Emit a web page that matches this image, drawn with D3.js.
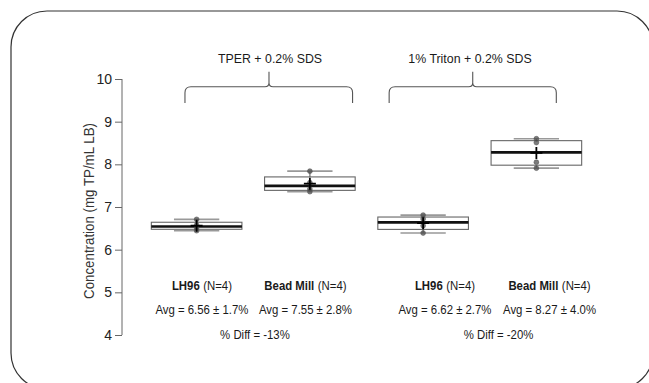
<!DOCTYPE html>
<html>
<head>
<meta charset="utf-8">
<script src="https://cdn.jsdelivr.net/npm/d3@7"></script>
<style>
  html, body { margin: 0; padding: 0; background: #fff; }
  svg { display: block; font-family: "Liberation Sans", Arial, sans-serif; }
</style>
</head>
<body>
<svg id="chart" width="649" height="383"></svg>
<script>
// ---- data ----
const methods = ["LH96", "Bead Mill", "LH96", "Bead Mill"];
const nLabels = ["(N=4)", "(N=4)", "(N=4)", "(N=4)"];
const groups = ["TPER + 0.2% SDS", "1% Triton + 0.2% SDS"];
const series = [
  [6.445, 6.51, 6.575, 6.71],
  [7.36, 7.42, 7.57, 7.84],
  [6.39, 6.56, 6.72, 6.81],
  [7.91, 8.05, 8.51, 8.60]
];
const avgLabels = ["Avg = 6.56 \u00b1 1.7%", "Avg = 7.55 \u00b1 2.8%", "Avg = 6.62 \u00b1 2.7%", "Avg = 8.27 \u00b1 4.0%"];
const diffLabels = ["% Diff = -13%", "% Diff = -20%"];
const yTicks = [4, 5, 6, 7, 8, 9, 10];
const yTitle = "Concentration (mg TP/mL LB)";

// ---- layout ----
const svg = d3.select("#chart");
const x = d3.scaleLinear().domain([0.5, 4.5]).range([140, 593]);
const y = d3.scaleLinear().domain([4, 10]).range([335, 79]);
const ink = "#1a1a1a";

function squeeze(sel, f) {
  sel.each(function () {
    const len = this.getComputedTextLength();
    d3.select(this).attr("textLength", len * f).attr("lengthAdjust", "spacingAndGlyphs");
  });
}

// frame
svg.append("rect")
  .attr("x", 11).attr("y", 11).attr("width", 642).attr("height", 378)
  .attr("rx", 36).attr("ry", 36)
  .attr("fill", "none").attr("stroke", "#333").attr("stroke-width", 1.2);

// y axis
const yAxis = d3.axisLeft(y).tickValues(yTicks).tickSize(7).tickFormat(d3.format("d"));
const gy = svg.append("g").attr("transform", "translate(122,0)").call(yAxis);
gy.select(".domain").attr("stroke", "#666").attr("d", `M0,${y(4)}V${y(10)}`);
gy.selectAll(".tick line").attr("stroke", "#666");
gy.selectAll(".tick text").attr("font-size", 14).attr("fill", "#222").attr("x", -10)
  .attr("font-family", "Liberation Sans, Arial, sans-serif");

svg.append("text")
  .attr("transform", `translate(90,${(y(4) + y(10)) / 2 + 4}) rotate(-90)`)
  .attr("text-anchor", "middle").attr("dominant-baseline", "middle")
  .attr("font-size", 14).attr("fill", "#333").text(yTitle).call(squeeze, 0.95);

// box stats (R fivenum hinges)
function fivenum(arr) {
  const s = arr.slice().sort(d3.ascending), n = s.length;
  const n4 = Math.floor((n + 3) / 2) / 2;
  const d = [1, n4, (n + 1) / 2, n + 1 - n4, n];
  return d.map(p => 0.5 * (s[Math.floor(p) - 1] + s[Math.ceil(p) - 1]));
}

const boxW = x(1.4) - x(1);
const stapleW = x(1.2) - x(1);
series.forEach((vals, i) => {
  const cx = x(i + 1);
  const [mn, q1, med, q3, mx] = fivenum(vals);
  const mean = d3.mean(vals);
  const g = svg.append("g");
  g.append("line").attr("x1", cx).attr("x2", cx).attr("y1", y(q3)).attr("y2", y(mx))
    .attr("stroke", "#888").attr("stroke-width", 1.5);
  g.append("line").attr("x1", cx).attr("x2", cx).attr("y1", y(q1)).attr("y2", y(mn))
    .attr("stroke", "#888").attr("stroke-width", 1.5);
  [mn, mx].forEach(v => g.append("line")
    .attr("x1", cx - stapleW).attr("x2", cx + stapleW).attr("y1", y(v)).attr("y2", y(v))
    .attr("stroke", "#999").attr("stroke-width", 1.6));
  g.append("rect").attr("x", cx - boxW).attr("width", 2 * boxW)
    .attr("y", y(q3)).attr("height", y(q1) - y(q3))
    .attr("fill", "#fff").attr("fill-opacity", 0.6).attr("stroke", "#666").attr("stroke-width", 1.1);
  g.append("line").attr("x1", cx - boxW).attr("x2", cx + boxW).attr("y1", y(med)).attr("y2", y(med))
    .attr("stroke", "#111").attr("stroke-width", 2.6);
  g.selectAll("circle").data(vals).join("circle")
    .attr("cx", cx).attr("cy", d => y(d)).attr("r", 2.4)
    .attr("fill", "#444").attr("fill-opacity", 0.7).attr("stroke", "#555").attr("stroke-opacity", 0.6);
  g.append("path").attr("d", `M${cx - 6},${y(mean)}H${cx + 6}M${cx},${y(mean) - 6}V${y(mean) + 6}`)
    .attr("stroke", "#000").attr("stroke-width", 1.8);
});

// braces + group titles
const braceSpec = [
  { a: 0.897, b: 2.377, tip: 1.639, title: 1.648 },
  { a: 2.70, b: 4.176, tip: 3.438, title: 3.414 }
];
const braceTop = y(9.82), braceEnd = y(9.44), braceTip = y(10.17), r = 6;
braceSpec.forEach((s, i) => {
  const xa = x(s.a), xb = x(s.b), xt = x(s.tip);
  const p = d3.path();
  p.moveTo(xa, braceEnd);
  p.lineTo(xa, braceTop + r);
  p.quadraticCurveTo(xa, braceTop, xa + r, braceTop);
  p.lineTo(xt - 4, braceTop);
  p.quadraticCurveTo(xt, braceTop, xt, braceTop - 4);
  p.lineTo(xt, braceTip);
  p.moveTo(xt, braceTop - 4);
  p.quadraticCurveTo(xt, braceTop, xt + 4, braceTop);
  p.lineTo(xb - r, braceTop);
  p.quadraticCurveTo(xb, braceTop, xb, braceTop + r);
  p.lineTo(xb, braceEnd);
  svg.append("path").attr("d", p.toString()).attr("fill", "none")
    .attr("stroke", "#555").attr("stroke-width", 1.1);
  svg.append("text").attr("x", x(s.title)).attr("y", y(10.37))
    .attr("text-anchor", "middle").attr("font-size", 13.3).attr("fill", ink)
    .text(groups[i]).call(squeeze, 0.93);
});

// bottom labels: bold method name + normal N label as two separate texts
const labelPos = [1.047, 1.961, 3.193, 4.116];
const fs = 12.5, sq = 0.91;
methods.forEach((m, i) => {
  const cxl = x(labelPos[i]);
  const b = svg.append("text").attr("y", y(5.125)).attr("dominant-baseline", "middle")
    .attr("font-size", fs).attr("font-weight", "bold").attr("fill", ink).text(m);
  const nn = svg.append("text").attr("y", y(5.125)).attr("dominant-baseline", "middle")
    .attr("font-size", fs).attr("fill", ink).text(nLabels[i]);
  const wb = b.node().getComputedTextLength() * sq;
  const wn = nn.node().getComputedTextLength() * sq;
  const gap = 3.5;
  const start = cxl - (wb + gap + wn) / 2;
  b.attr("x", start).attr("textLength", wb).attr("lengthAdjust", "spacingAndGlyphs");
  nn.attr("x", start + wb + gap).attr("textLength", wn).attr("lengthAdjust", "spacingAndGlyphs");
  svg.append("text").attr("x", cxl).attr("y", y(4.56))
    .attr("text-anchor", "middle").attr("dominant-baseline", "middle")
    .attr("font-size", fs).attr("fill", ink).text(avgLabels[i]).call(squeeze, sq);
});
const diffPos = [1.515, 3.666];
diffLabels.forEach((d, i) => {
  svg.append("text").attr("x", x(diffPos[i])).attr("y", y(3.98))
    .attr("text-anchor", "middle").attr("dominant-baseline", "middle")
    .attr("font-size", fs).attr("fill", ink).text(d).call(squeeze, sq);
});
</script>
</body>
</html>
